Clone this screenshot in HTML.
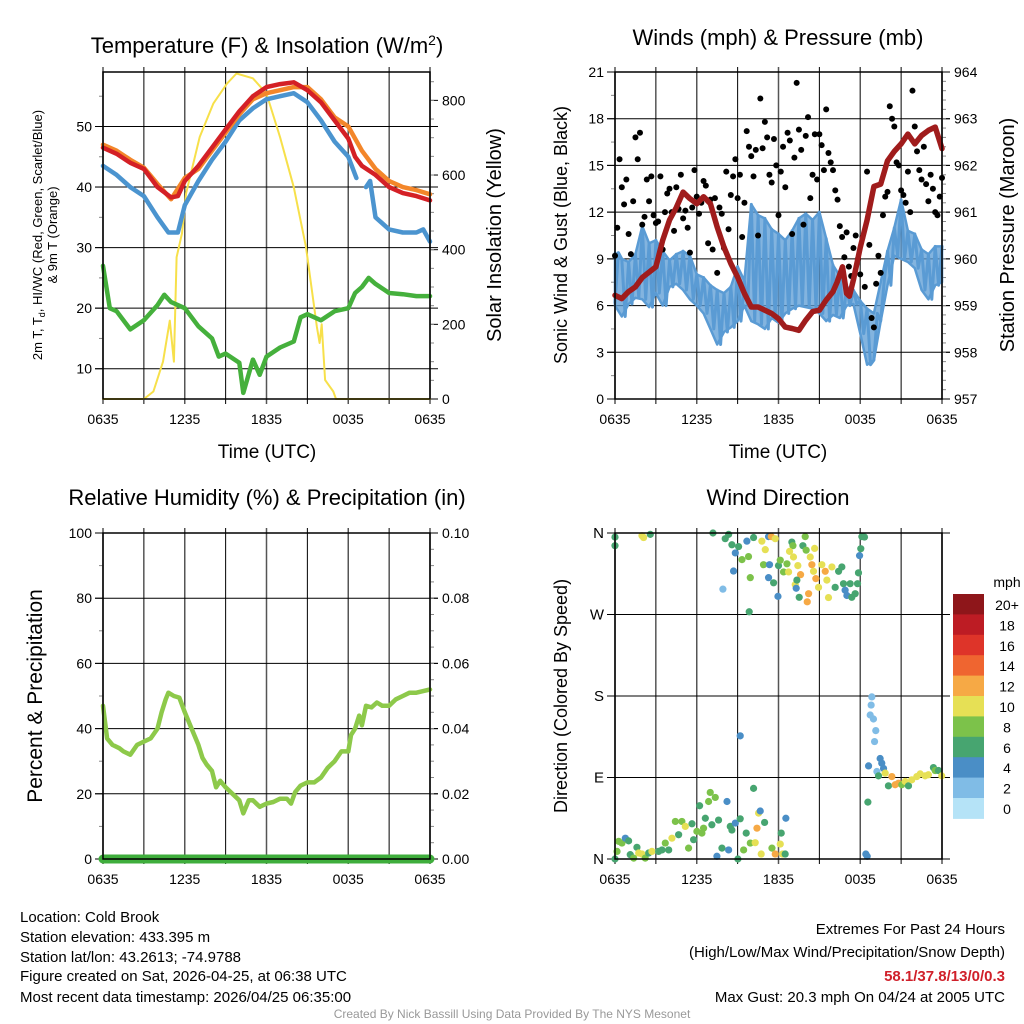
<!DOCTYPE html>
<html><head><meta charset="utf-8"><style>
html,body{margin:0;padding:0;background:#fff;}
svg{display:block;font-family:"Liberation Sans",sans-serif;}
</style></head><body>
<svg id="chart" width="1024" height="1024" viewBox="0 0 1024 1024" xmlns="http://www.w3.org/2000/svg">
<rect width="1024" height="1024" fill="#fff"/>
<g font-size="22" text-anchor="middle" fill="#000">
<text x="267" y="53">Temperature (F) &amp; Insolation (W/m<tspan dy="-8" font-size="14">2</tspan><tspan dy="8">)</tspan></text>
<text x="778" y="45">Winds (mph) &amp; Pressure (mb)</text>
<text x="267" y="505">Relative Humidity (%) &amp; Precipitation (in)</text>
<text x="778" y="505">Wind Direction</text>
</g>
<g id="p1"></g>
<g id="p2"></g>
<g id="p3"></g>
<g id="p4"></g>
<g font-size="19" text-anchor="middle">
<text x="267" y="458">Time (UTC)</text>
<text x="778" y="458">Time (UTC)</text>
</g>
<g font-size="13" text-anchor="middle">
<text transform="translate(42,235) rotate(-90)">2m T, T<tspan font-size="9" dy="3">d</tspan><tspan dy="-3">, HI/WC (Red, Green, Scarlet/Blue)</tspan></text>
<text transform="translate(57,235) rotate(-90)">&amp; 9m T (Orange)</text>
</g>
<g font-size="20" text-anchor="middle">
<text transform="translate(501,235) rotate(-90)">Solar Insolation (Yellow)</text>
<text transform="translate(567,235) rotate(-90)" font-size="18">Sonic Wind &amp; Gust (Blue, Black)</text>
<text transform="translate(1014,235) rotate(-90)">Station Pressure (Maroon)</text>
<text transform="translate(42,696) rotate(-90)" font-size="21">Percent &amp; Precipitation</text>
<text transform="translate(567,696) rotate(-90)" font-size="18">Direction (Colored By Speed)</text>
</g>
<g font-size="15" fill="#000">
<text x="20" y="922">Location: Cold Brook</text>
<text x="20" y="942">Station elevation: 433.395 m</text>
<text x="20" y="962">Station lat/lon: 43.2613; -74.9788</text>
<text x="20" y="981">Figure created on Sat, 2026-04-25, at 06:38 UTC</text>
<text x="20" y="1002">Most recent data timestamp: 2026/04/25 06:35:00</text>
</g>
<g font-size="15" text-anchor="end">
<text x="1005" y="934">Extremes For Past 24 Hours</text>
<text x="1005" y="957">(High/Low/Max Wind/Precipitation/Snow Depth)</text>
<text x="1005" y="981" fill="#d0202a" font-weight="bold">58.1/37.8/13/0/0.3</text>
<text x="1005" y="1002">Max Gust: 20.3 mph On 04/24 at 2005 UTC</text>
</g>
<text x="512" y="1018" font-size="12" fill="#999" text-anchor="middle">Created By Nick Bassill Using Data Provided By The NYS Mesonet</text>
</svg>
<script>
// ---- data ----
const xTickLabels = ["0635","1235","1835","0035","0635"];
const tempT = [0,1,2,3,4,5,5.5,6,7,8,9,10,11,12,13,14,15,16,17,18,18.5,19,20,21,22,23,24];
const tempV = [46.5,45.5,44,43,40,38.3,38.5,41,43.5,46.5,49.5,52.5,55,56.5,57,57.3,56,54,51,48,45,43.5,42,40,39,38.5,37.8];
const t9T = [0,1,2,3,4,5,6,7,8,9,10,11,12,13,14,15,16,17,18,19,20,21,22,23,24];
const t9V = [47,46,44.5,43.2,40.5,38,41.5,43,46,49,52,54.5,55.5,56,56.5,56.5,54.5,51.5,50,46,43,41,40,39.5,38.8];
const wcT = [0,1,2,3,4,4.8,5.5,6,7,8,9,10,11,12,13,14,15,16,17,18,18.6];
const wcV = [43.5,42,40,38.5,35,32.5,32.5,37,41,44.5,47.5,51,53,54.5,55,55.5,54,51,47.5,45,41.5];
const wc2T = [19.3,19.6,20,21,22,23,23.5,24];
const wc2V = [40,41,35,33,32.5,32.5,33,31];
const tdT = [0,0.5,1,2,3,4,4.5,5,6,7,8,8.5,9,10,10.3,11,11.5,12,13,14,14.5,15,16,17,18,18.5,19,19.5,20,21,22,23,24];
const tdV = [27,20,19.5,16.5,18,20.5,22.2,21,20,17,15,12,12.5,11,6,11.5,9,12,13.5,14.5,18.5,19,18,19.5,20,22.5,23.5,25,24,22.5,22.3,22,22];
const solT = [0,3,3.7,4.4,4.9,5.2,5.4,5.8,6.1,7.1,8.1,9.1,9.8,11,12,13,14,14.9,15.7,15.9,16.05,16.3,16.9,17.1,24];
const solV = [0,0,20,100,210,100,380,444,551,702,792,845,872,859,818,701,567,407,193,150,200,51,20,0,0];
const windV = [6.2,9.4,9.0,5.3,8.8,6.1,9.3,6.5,11.1,6.4,10.0,5.9,10.2,6.8,9.5,6.0,8.9,7.2,9.3,7.4,9.5,7.0,9.2,6.4,8.0,6.0,7.8,5.5,7.3,4.5,7.0,3.5,6.8,4.3,7.2,4.6,8.5,5.0,7.6,6.0,12.5,5.0,11.8,4.8,11.6,4.5,10.9,5.2,10.6,4.9,10.2,5.5,10.8,5.8,11.6,6.0,11.9,5.9,11.5,5.8,12.0,5.5,10.3,5.0,8.6,5.4,7.9,5.2,7.2,6.0,7.0,6.1,6.3,4.2,5.8,2.2,2.5,5.5,5.0,7.5,9.5,7.3,11.0,9.2,12.8,9.0,10.8,8.8,10.6,8.4,9.6,7.0,9.3,6.4,9.8,7.3,9.8];
const windHi = [9.4,9.0,8.8,9.3,11.1,10.0,10.2,9.5,8.9,9.3,9.5,9.2,8.0,7.8,7.3,7.0,6.8,7.2,8.5,7.6,12.5,11.8,11.6,10.9,10.6,10.2,10.8,11.6,11.9,11.5,12.0,10.3,8.6,7.9,7.2,7.0,6.3,5.8,5.5,7.5,9.5,11.0,12.8,10.8,10.6,9.6,9.3,9.8,9.8];
const windLo = [6.0,5.3,6.1,6.5,6.4,5.9,6.8,6.0,7.2,7.4,7.0,6.4,6.0,5.5,4.5,3.5,4.3,4.6,5.0,6.0,5.0,4.8,4.5,5.2,4.9,5.5,5.8,6.0,5.9,5.8,5.5,5.0,5.4,5.2,6.0,6.1,4.2,2.2,2.5,5.0,7.3,9.2,9.0,8.8,8.4,7.0,6.4,7.3,7.5];
const gustV = [9.2,11,15.4,13.6,12.5,14.1,10.6,9.3,12.7,16.8,15.4,17.1,11.2,11.7,14.1,12.7,14.3,11.8,11.3,11.4,14.3,9.6,12.0,13.2,13.5,12.0,10.8,13.6,12.2,14.4,11.6,12.1,11.0,9.4,12.3,14.7,13.0,11.9,12.6,14.0,13.7,10.0,12.8,9.6,12.9,8.1,12.3,11.9,9.7,14.6,10.9,13.1,14.3,15.4,12.9,14.4,10.4,12.6,17.2,16.2,15.6,14.3,16.0,10.5,19.3,16.1,17.8,16.8,14.4,13.9,16.7,15.0,11.8,14.6,16.2,13.6,17.1,16.6,10.6,15.5,20.3,17.3,16.0,11.2,16.9,18.1,12.9,14.4,17.0,14.1,17.0,16.3,14.7,18.6,15.8,15.2,14.7,13.4,12.8,11.1,10.4,9.1,10.7,8.5,7.9,9.7,10.5,9.0,8.0,10.4,7.2,14.6,9.9,5.2,4.6,7.4,9.2,8.1,11.8,13.0,13.3,18.8,18.0,17.5,15.2,15.0,13.4,13.1,12.6,14.6,12.0,19.8,17.5,15.9,14.7,14.1,16.2,13.8,12.7,14.4,13.5,12.0,11.8,13.0,14.2];
const presT = [0,0.5,1,1.5,2,3,3.5,4,4.5,5,5.5,6,6.5,7,7.5,8,8.5,9,9.5,10,10.5,11,11.5,12,12.5,13,13.5,14,14.5,15,15.5,16,16.3,16.7,17,17.2,17.5,18,18.5,19,19.5,20,20.5,21,21.5,22,22.5,23,23.5,24];
const presV = [959.22,959.15,959.3,959.4,959.6,959.83,960.4,960.83,961.1,961.43,961.29,961.18,961.33,961.18,960.68,960.25,959.9,959.61,959.26,958.97,958.97,958.9,958.83,958.72,958.54,958.51,958.47,958.69,958.87,958.9,959.12,959.3,959.5,959.83,959.26,959.2,959.55,960.25,960.83,961.55,961.6,962.1,962.3,962.46,962.67,962.46,962.64,962.75,962.82,962.36];
const rhT = [0,0.3,0.7,1.2,1.5,2,2.5,3,3.5,4,4.3,4.6,4.8,5.2,5.6,6,6.5,7,7.3,7.6,8,8.3,8.6,9,9.5,10,10.3,10.7,11,11.5,12,12.5,13,13.5,13.8,14.1,14.5,15,15.5,16,16.5,17,17.5,18,18.2,18.5,18.8,19,19.3,19.7,20.1,20.5,21,21.5,22,22.5,23,23.5,24];
const rhV = [47,37,35,34,33,32,35,36,37,40,45,49,51,50,49.5,45,40,35,31,29,27,22,24,22,20,18,14,18,18,16,17,17.5,18.5,18.5,17,20.5,22.5,23.5,23.5,25,28,30,33,33,38,40,44,41,47,46.5,48,47,47,49,50,51,51,51.5,52];
const precipT = [0,24];
const precipV = [0,0];
const dirT = [
0,0,1.98,2.1,2.59,7.19,8.09,8.34,8.58,8.83,
8.7,9.07,9.32,9.8,9.93,9.85,7.92,9.68,10.17,10.78,
11.03,11.27,11.47,11.76,10.9,11.34,11.27,11.64,11.96,12.0,
12.13,12.37,12.74,12.62,12.98,13.06,12.81,13.1,13.42,13.62,
13.23,13.35,13.3,13.52,13.79,13.96,14.03,14.33,14.45,14.57,
14.65,14.74,14.21,14.11,14.94,15.18,15.43,15.55,15.67,15.92,
16.16,16.41,16.65,16.77,16.89,17.02,17.26,17.38,17.63,17.8,
17.87,17.95,18.04,18.12,18.31,18.85,18.8,18.73,18.97,19.14,
19.05,18.61,19.46,19.58,19.71,19.22,19.34,19.83,20.07,20.32,
20.56,20.81,21.05,21.3,21.54,21.78,22.15,22.4,22.76,23.0,
23.37,23.5,23.74,23.98,18.56,18.41,18.51,9.19,0,0.15,
0.27,0.51,0.76,1.0,1.12,1.37,1.61,1.74,1.98,2.22,
2.47,2.71,3.2,3.45,3.69,3.94,4.18,4.43,4.67,4.91,
5.16,5.4,5.65,5.77,6.01,6.21,6.38,6.5,6.63,6.87,
6.99,7.11,7.36,7.48,7.6,7.85,8.22,8.34,8.46,8.58,
8.83,9.02,9.19,9.44,9.63,9.93,10.17,10.29,10.42,10.54,
10.66,10.73,10.98,11.52,11.76,12.13,12.2,12.3,12.49,12.54];
const dirD = [
355.5,346,357,355,358.5,360,353.7,358.5,347,338,
318,345,330.6,334,310.7,273,298,351,355,351,
341.6,356,356,353.7,325,325,310.7,305,290,324,
330,317,317,326,350,346,339.7,333.5,324,314,
303,308,299,289,346,356,341,333.5,325,317.7,
343,309.6,293,284,300,325,317.7,308,288.7,322.5,
300,317.7,322.5,304,296.8,291,304,289,293,304,
316,335,342.7,356,355.5,179,170,159,154.6,141.8,
129.7,102.8,111,105.8,100,96.6,91.8,94.8,80.8,91,
82,83.7,82,85.6,80.8,87.4,91,94,91.8,93,
101,97.7,97.7,91.8,62.8,5.5,3,136,0,8.4,
19.5,17.6,23,20,4.8,1,12.9,6.6,5.5,1,
6.6,8.4,8.4,10,17.6,10,23,41.5,26.8,41.5,
36,12,38.9,21.3,30.5,58.8,28.6,34,45,63.5,
73.5,37.8,68,3,43,12,63.5,10,36,32,
39.7,0,44.4,10,28.6,17.6,78,18,34,50.7,
53,5.5,40.4,12,5.5,16.5,28.6,5.5,5.5,45];
const dirS = [
6.5,6.5,10.5,10.5,6.5,6.5,6.5,6.5,6.5,4.5,
4.5,6.5,8.5,8.5,8.5,6.5,2.5,4.5,6.5,10.5,
10.5,4.5,12.5,10.5,8.5,4.5,4.5,6.5,4.5,6.5,
8.5,8.5,10.5,8.5,6.5,8.5,10.5,10.5,10.5,12.5,
10.5,6.5,4.5,6.5,6.5,8.5,8.5,10.5,12.5,10.5,
10.5,12.5,12.5,12.5,10.5,10.5,12.5,10.5,10.5,10.5,
6.5,6.5,6.5,6.5,4.5,4.5,6.5,6.5,6.5,6.5,
6.5,4.5,6.5,6.5,6.5,2.5,2.5,2.5,2.5,2.5,
2.5,4.5,4.5,4.5,4.5,2.5,6.5,10.5,6.5,12.5,
12.5,12.5,8.5,10.5,6.5,10.5,10.5,10.5,10.5,10.5,
6.5,8.5,6.5,10.5,6.5,4.5,4.5,4.5,6.5,8.5,
8.5,8.5,4.5,6.5,6.5,8.5,6.5,10.5,10.5,8.5,
6.5,10.5,6.5,6.5,8.5,6.5,10.5,8.5,6.5,8.5,
10.5,8.5,6.5,6.5,8.5,6.5,8.5,8.5,6.5,8.5,
8.5,6.5,8.5,4.5,6.5,6.5,4.5,4.5,6.5,6.5,
4.5,6.5,6.5,8.5,6.5,8.5,6.5,10.5,12.5,10.5,
4.5,10.5,6.5,8.5,12.5,10.5,6.5,10.5,6.5,4.5];
const cbLabels = ["0","2","4","6","8","10","12","14","16","18","20+"];
const cbColors = ["#b5e3f7","#80bce6","#4a8ec6","#47a570","#7cc24a","#e6e055","#f6a945","#ef6530","#de3429","#bd1c24","#8e161a"];

// ---- helpers ----
const NS = "http://www.w3.org/2000/svg";
function el(parent, tag, attrs) {
  const e = document.createElementNS(NS, tag);
  for (const k in attrs) e.setAttribute(k, attrs[k]);
  parent.appendChild(e);
  return e;
}
function xOf(P, h) { return P.x0 + h * (P.x1 - P.x0) / 24; }
function lin(d0, d1, r0, r1) { return v => r0 + (v - d0) * (r1 - r0) / (d1 - d0); }
function colorFor(s) { return cbColors[Math.min(10, Math.max(0, Math.floor(s / 2)))]; }

function frame(P, g, opts) {
  for (let i = 0; i <= 8; i++) {
    const x = xOf(P, i * 3);
    const ln = el(g, "line", {x1: x, x2: x, y1: P.y0 - 5, y2: P.y1 + 5, stroke: (i % 2 ? "#000" : "#555"), "stroke-width": (i % 2 ? 1 : 1.5)});
    
    
  }
  for (let i = 0; i < xTickLabels.length; i++) {
    const t = el(g, "text", {x: xOf(P, i * 6), y: P.y1 + 25, "font-size": 14, "text-anchor": "middle"});
    t.textContent = xTickLabels[i];
    
    
  }
  opts.left.forEach(v => {
    const y = opts.yL(v);
    if (opts.grid) {
      const gl = el(g, "line", {x1: P.x0 - 8, x2: P.x1 + 8, y1: y, y2: y, stroke: "#000", "stroke-width": 1});
      
      
    }
    const tk = el(g, "line", {x1: P.x0 - 8, x2: P.x0, y1: y, y2: y, stroke: "#000", "stroke-width": 1});
    
    
    const t = el(g, "text", {x: P.x0 - 11, y: y + 5, "font-size": opts.lfs || 14, "text-anchor": "end"});
    t.textContent = opts.lfmt ? opts.lfmt(v) : v;
    
    
  });
  (opts.leftMinor || []).forEach(v => {
    const y = opts.yL(v);
    const tk = el(g, "line", {x1: P.x0 - 4, x2: P.x0, y1: y, y2: y, stroke: "#888", "stroke-width": 1});
    
    
  });
  (opts.right || []).forEach(v => {
    const y = opts.yR(v);
    const tk = el(g, "line", {x1: P.x1, x2: P.x1 + 8, y1: y, y2: y, stroke: "#000", "stroke-width": 1});
    
    
    const t = el(g, "text", {x: P.x1 + 12, y: y + 5, "font-size": 14, "text-anchor": "start"});
    t.textContent = opts.rfmt ? opts.rfmt(v) : v;
    
    
  });
  (opts.rightMinor || []).forEach(v => {
    const y = opts.yR(v);
    const tk = el(g, "line", {x1: P.x1, x2: P.x1 + 4, y1: y, y2: y, stroke: "#888", "stroke-width": 1});
    
    
  });
}
function border(P, g) {
  const b = el(g, "rect", {x: P.x0, y: P.y0, width: P.x1 - P.x0, height: P.y1 - P.y0, fill: "none", stroke: "#000", "stroke-width": 1.5});
  
  
}
function series(P, g, ts, vs, yf, color, w, name) {
  const d = ts.map((t, i) => (i ? "L" : "M") + xOf(P, t).toFixed(1) + "," + yf(vs[i]).toFixed(1)).join("");
  const p = el(g, "path", {d: d, fill: "none", stroke: color, "stroke-width": w, "stroke-linejoin": "round", "stroke-linecap": "round"});
  
  
  return p;
}
function range(a, b, s) { const r = []; for (let v = a; v <= b + 1e-9; v += s) r.push(+v.toFixed(4)); return r; }

// ---- panel 1 ----
const P1 = {x0: 103, x1: 430, y0: 72, y1: 399};
const g1 = document.getElementById("p1");
const y1L = lin(5, 59, 399, 72);
const y1R = lin(0, 876, 399, 72);
frame(P1, g1, {yL: y1L, yR: y1R, grid: true, left: [10,20,30,40,50], leftMinor: [15,25,35,45,55], right: [0,200,400,600,800], rightMinor: range(50, 850, 50)});
series(P1, g1, solT, solV, y1R, "#f7e04a", 2, "solar-insolation-line");
series(P1, g1, tdT, tdV, y1L, "#45b03c", 4.5, "dewpoint-line");
series(P1, g1, wcT, wcV, y1L, "#4b94cf", 4.5, "windchill-line");
series(P1, g1, wc2T, wc2V, y1L, "#4b94cf", 4.5, "windchill-line-late");
series(P1, g1, t9T, t9V, y1L, "#f3862a", 4.5, "temp-9m-line");
series(P1, g1, tempT, tempV, y1L, "#d42026", 4.5, "temp-2m-line");
border(P1, g1);

// ---- panel 2 ----
const P2 = {x0: 615, x1: 942, y0: 72, y1: 399};
const g2 = document.getElementById("p2");
const y2L = lin(0, 21, 399, 72);
const y2R = lin(957, 964, 399, 72);
frame(P2, g2, {yL: y2L, yR: y2R, grid: true, left: [0,3,6,9,12,15,18,21], leftMinor: range(1.5, 19.5, 3), right: [957,958,959,960,961,962,963,964], rightMinor: range(957.2, 963.8, 0.2)});
const bandTop = windHi.map((v, i) => xOf(P2, i * 0.5).toFixed(1) + "," + y2L(v).toFixed(1));
const bandBot = windLo.map((v, i) => xOf(P2, i * 0.5).toFixed(1) + "," + y2L(v).toFixed(1)).reverse();
const band = el(g2, "polygon", {points: bandTop.concat(bandBot).join(" "), fill: "#5a9bd4", "fill-opacity": 0.75, stroke: "#5a9bd4", "stroke-width": 2.5, "stroke-linejoin": "round"});


const windT = windV.map((v, i) => i * 0.25);
series(P2, g2, windT, windV, y2L, "#5a9bd4", 3, "sonic-wind-line");
gustV.forEach((v, i) => {
  const c = el(g2, "circle", {cx: xOf(P2, i / 6), cy: y2L(v), r: 3, fill: "#000"});
  
  
});
series(P2, g2, presT, presV, y2R, "#a01c1c", 5.5, "pressure-line");
border(P2, g2);

// ---- panel 3 ----
const P3 = {x0: 103, x1: 430, y0: 533, y1: 859};
const g3 = document.getElementById("p3");
const y3L = lin(0, 100, 859, 533);
const y3R = lin(0, 0.1, 859, 533);
frame(P3, g3, {yL: y3L, yR: y3R, grid: true, left: [0,20,40,60,80,100], leftMinor: [10,30,50,70,90], right: [0,0.02,0.04,0.06,0.08,0.1], rfmt: v => v.toFixed(2), rightMinor: range(0.005, 0.095, 0.005)});
series(P3, g3, rhT, rhV, y3L, "#8dc94a", 4.5, "rh-line");
series(P3, g3, precipT, precipV, y3R, "#3fae3c", 9, "precip-line");
border(P3, g3);

// ---- panel 4 ----
const P4 = {x0: 615, x1: 942, y0: 533, y1: 859};
const g4 = document.getElementById("p4");
const y4 = lin(0, 360, 859, 533);
const dirLab = ["N","E","S","W","N"];
frame(P4, g4, {yL: y4, grid: true, left: [0,90,180,270,360], lfmt: v => dirLab[v / 90], lfs: 15});
dirT.forEach((t, i) => {
  if (dirD[i] === undefined) return;
  const c = el(g4, "circle", {cx: xOf(P4, t), cy: y4(dirD[i]), r: 3.6, fill: colorFor(dirS[i])});
  
  
});
border(P4, g4);
const cbTop = 594, cbH = 20.4;
for (let i = 0; i < cbColors.length; i++) {
  const k = cbColors.length - 1 - i;
  const r = el(g4, "rect", {x: 953, y: cbTop + i * cbH, width: 31, height: cbH + 0.5, fill: cbColors[k]});
  
  
  const t = el(g4, "text", {x: 1007, y: cbTop + i * cbH + 16, "font-size": 14, "text-anchor": "middle"});
  t.textContent = cbLabels[k];
  
  
}
const mph = el(g4, "text", {x: 1007, y: 587, "font-size": 14, "text-anchor": "middle"});
mph.textContent = "mph";


</script>
</body></html>
